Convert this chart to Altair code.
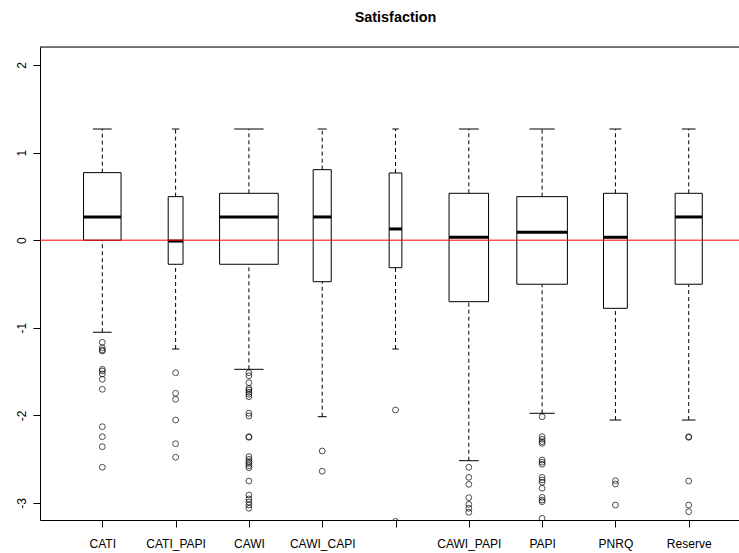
import altair as alt
import numpy as np
import pandas as pd

# Survey mode groups (the fifth group's axis label is left blank)
GROUPS = ["CATI", "CATI_PAPI", "CAWI", "CAWI_CAPI", "", "CAWI_PAPI", "PAPI", "PNRQ", "Reserve"]
# Respondents per group (box widths scale with sqrt(n))
GROUP_N = [409, 64, 1000, 95, 47, 454, 744, 165, 214]

# Five-number summaries of the satisfaction score
WHISK_LO = [-1.051, -1.242, -1.474, -2.015, -1.242, -2.517, -1.976, -2.053, -2.053]
Q1 = [0.0, -0.275, -0.275, -0.474, -0.314, -0.702, -0.503, -0.778, -0.503]
MEDIAN = [0.265, -0.01, 0.265, 0.265, 0.128, 0.033, 0.090, 0.033, 0.265]
Q3 = [0.771, 0.497, 0.535, 0.805, 0.767, 0.535, 0.497, 0.535, 0.535]
WHISK_HI = [1.269, 1.269, 1.269, 1.269, 1.269, 1.269, 1.269, 1.269, 1.269]

# Outlying observations per group
OUTLIERS = {
    1: [-1.166, -1.227, -1.253, -1.265, -1.474, -1.493, -1.527, -1.588, -1.702,
        -2.129, -2.243, -2.357, -2.592],
    2: [-1.513, -1.748, -1.816, -2.053, -2.323, -2.478],
    3: [-1.513, -1.547, -1.627, -1.691, -1.710, -1.736, -1.759, -1.787, -1.976,
        -2.007, -2.243, -2.250, -2.471, -2.501, -2.528, -2.547, -2.574, -2.597,
        -2.749, -2.909, -2.954, -2.989, -3.023, -3.060],
    4: [-2.406, -2.638],
    5: [-1.938, -3.21],
    6: [-2.592, -2.707, -2.787, -2.939, -3.015, -3.060, -3.106],
    7: [-2.015, -2.243, -2.273, -2.300, -2.319, -2.509, -2.535, -2.558, -2.707,
        -2.737, -2.764, -2.832, -2.935, -2.966, -2.985, -3.175],
    8: [-2.745, -2.783, -3.023],
    9: [-2.243, -2.250, -2.749, -3.023, -3.099],
}

REF_LEVEL = 0.0

W, H = 699, 473
FONT = "Liberation Sans"

stats = pd.DataFrame({
    "pos": np.arange(1, len(GROUPS) + 1),
    "n": GROUP_N,
    "lo": WHISK_LO, "q1": Q1, "med": MEDIAN, "q3": Q3, "hi": WHISK_HI,
})
half = 0.4 * np.sqrt(stats["n"] / stats["n"].max())
stats["bx0"] = stats["pos"] - half
stats["bx1"] = stats["pos"] + half
stats["cx0"] = stats["pos"] - half / 2
stats["cx1"] = stats["pos"] + half / 2

out = pd.DataFrame(
    [(p, v) for p, vals in OUTLIERS.items() for v in vals], columns=["pos", "value"]
)

label_array = "[" + ",".join("'%s'" % g for g in GROUPS) + "]"

xscale = alt.Scale(domain=[0.15, 9.686], nice=False, zero=False)
yscale = alt.Scale(domain=[-3.194, 2.205], nice=False, zero=False)

xaxis = alt.Axis(
    values=list(range(1, len(GROUPS) + 1)), labelExpr=label_array + "[datum.value - 1]",
    title=None, grid=False, tickSize=7, tickColor="black", domainColor="black",
    labelFont=FONT, labelFontSize=12, labelColor="black", labelPadding=11,
    labelFlush=False, labelOverlap=False,
)
yaxis = alt.Axis(
    values=[-3, -2, -1, 0, 1, 2], labelExpr="'' + datum.value",
    title=None, grid=False, tickSize=7, tickColor="black", domainColor="black",
    labelFont=FONT, labelFontSize=12, labelColor="black", labelAngle=270,
    labelAlign="center", labelBaseline="bottom", labelPadding=5,
)

base = alt.Chart(stats)

whisk_hi = base.mark_rule(color="black", strokeWidth=1, strokeDash=[4, 3]).encode(
    x=alt.X("pos:Q", scale=xscale, axis=xaxis),
    y=alt.Y("q3:Q", scale=yscale, axis=yaxis), y2="hi:Q")
whisk_lo = base.mark_rule(color="black", strokeWidth=1, strokeDash=[4, 3]).encode(
    x="pos:Q", y="lo:Q", y2="q1:Q")
cap_hi = base.mark_rule(color="black", strokeWidth=1).encode(
    x="cx0:Q", x2="cx1:Q", y="hi:Q")
cap_lo = base.mark_rule(color="black", strokeWidth=1).encode(
    x="cx0:Q", x2="cx1:Q", y="lo:Q")
boxes = base.mark_rect(fill="white", stroke="black", strokeWidth=1).encode(
    x="bx0:Q", x2="bx1:Q", y="q1:Q", y2="q3:Q")
medians = base.mark_rule(color="black", strokeWidth=3).encode(
    x="bx0:Q", x2="bx1:Q", y="med:Q")

points = alt.Chart(out).mark_point(
    shape="circle", filled=False, color="black", strokeWidth=1, size=34, clip=True
).encode(x="pos:Q", y="value:Q")

ref = alt.Chart(pd.DataFrame({"v": [REF_LEVEL]})).mark_rule(
    color="#FF0000", strokeWidth=1
).encode(y="v:Q", x=alt.value(0), x2=alt.value(W))

frame_top = alt.Chart(pd.DataFrame({"v": [0]})).mark_rule(
    color="black", strokeWidth=1
).encode(y=alt.value(0), x=alt.value(0), x2=alt.value(W))

chart = alt.layer(
    whisk_hi, whisk_lo, cap_hi, cap_lo, boxes, medians, points, ref, frame_top
).properties(
    width=W, height=H,
    autosize=alt.AutoSizeParams(type="none"),
    padding={"left": 40, "top": 47, "right": 0, "bottom": 33},
    title=alt.TitleParams(
        "Satisfaction", font=FONT, fontSize=14.4, fontWeight="bold", color="black",
        anchor="middle", dx=6, offset=10, baseline="alphabetic",
    ),
).configure_view(stroke=None).configure(background="white")

chart.save("out.html", embed_options={"renderer": "svg", "actions": False})
